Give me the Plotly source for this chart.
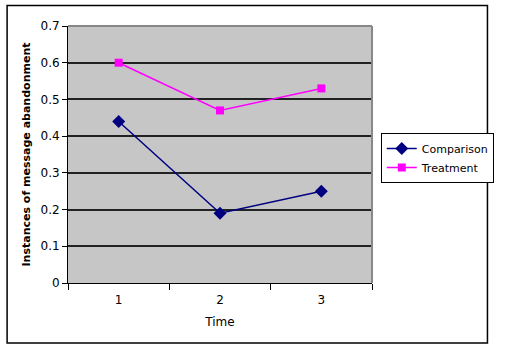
import plotly.graph_objects as go

times = ["1", "2", "3"]
comparison = [0.44, 0.19, 0.25]
treatment = [0.60, 0.47, 0.53]
y_ticks = [0, 0.1, 0.2, 0.3, 0.4, 0.5, 0.6, 0.7]
y_labels = ["0", "0.1", "0.2", "0.3", "0.4", "0.5", "0.6", "0.7"]

FONT = "DejaVu Sans"
L, R, T, B = 68, 126, 26, 66
W, H = 506, 349
pw, ph = W - L - R, H - T - B

fig = go.Figure()
fig.add_trace(go.Scatter(
    x=times, y=comparison, name="Comparison", mode="lines+markers",
    line=dict(color="#000080", width=1.5),
    marker=dict(symbol="diamond", size=10, color="#000080"),
))
fig.add_trace(go.Scatter(
    x=times, y=treatment, name="Treatment", mode="lines+markers",
    line=dict(color="#FF00FF", width=1.5),
    marker=dict(symbol="square", size=8, color="#FF00FF"),
))

def px_x(p):
    return (p - L) / pw

def px_y(p):
    return (H - B - p) / ph

fig.update_layout(
    width=W, height=H,
    margin=dict(l=L, r=R, t=T, b=B),
    paper_bgcolor="white",
    plot_bgcolor="#C6C6C6",
    font=dict(family=FONT, size=11, color="black"),
    showlegend=True,
    legend=dict(
        x=px_x(389), y=px_y(133), xanchor="left", yanchor="top",
        bordercolor="black", borderwidth=1, bgcolor="white",
        font=dict(family=FONT, size=11),
        tracegroupgap=0, itemwidth=30,
    ),
    xaxis=dict(
        type="category", tickson="boundaries", ticks="outside", ticklen=6,
        tickcolor="black", showline=True, linecolor="black", linewidth=1,
        showgrid=False, range=[-0.5, 2.5], ticklabelstandoff=6,
        title=dict(text="Time", font=dict(family=FONT, size=12), standoff=11),
        tickfont=dict(family=FONT, size=12),
    ),
    yaxis=dict(
        range=[0, 0.7], tickvals=y_ticks, ticktext=y_labels,
        ticks="outside", ticklen=5, tickcolor="black",
        showline=True, linecolor="black", linewidth=1,
        showgrid=True, gridcolor="#222222", gridwidth=2,
        zeroline=False,
        title=dict(text="<b>Instances of message abandonment</b>",
                   font=dict(family=FONT, size=11), standoff=7),
        tickfont=dict(family=FONT, size=12),
    ),
    shapes=[
        dict(type="rect", xref="paper", yref="paper",
             x0=px_x(5.5), x1=px_x(498.5), y0=px_y(343), y1=px_y(5.5),
             line=dict(color="black", width=1.5), layer="below"),
        dict(type="line", xref="paper", yref="paper",
             x0=0, x1=1, y0=1, y1=1, line=dict(color="#888888", width=2)),
        dict(type="line", xref="paper", yref="paper",
             x0=1, x1=1, y0=0, y1=1, line=dict(color="#888888", width=2)),
    ],
)

fig.write_html("out.html")
